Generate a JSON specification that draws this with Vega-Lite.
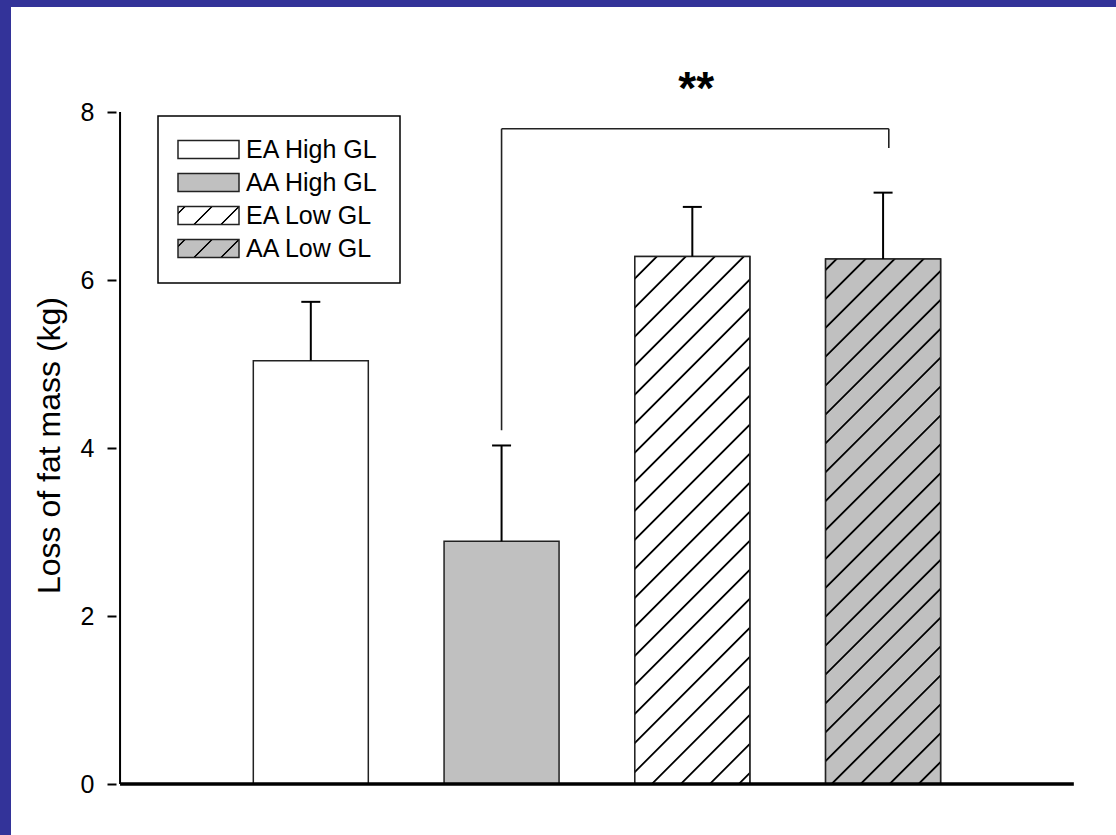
{
  "$schema": "https://vega.github.io/schema/vega-lite/v6.json",
  "width": 1105,
  "height": 828,
  "autosize": {"type": "none"},
  "padding": {"left": 11, "top": 7, "right": 0, "bottom": 0},
  "background": "#333399",
  "config": {
    "view": {"fill": "white", "stroke": null},
    "font": "Liberation Sans",
    "axis": {"labelFont": "Liberation Sans", "titleFont": "Liberation Sans"},
    "legend": {"labelFont": "Liberation Sans", "strokeWidth": 1.5}
  },
  "datasets": {
    "bars": [
      {"group": "EA High GL", "pos": 1, "mean": 5.04, "upper": 5.74},
      {"group": "AA High GL", "pos": 2, "mean": 2.89, "upper": 4.03},
      {"group": "EA Low GL", "pos": 3, "mean": 6.28, "upper": 6.87},
      {"group": "AA Low GL", "pos": 4, "mean": 6.25, "upper": 7.04}
    ],
    "bracket": [
      {"from": 2, "to": 4.03, "low": 7.8, "high": 7.8},
      {"from": 2, "to": 2, "low": 4.21, "high": 7.8},
      {"from": 4.03, "to": 4.03, "low": 7.57, "high": 7.8}
    ]
  },
  "layer": [
    {
      "data": {"name": "bars"},
      "mark": {"type": "bar", "size": 115, "stroke": "#222222", "strokeWidth": 1.5},
      "encoding": {
        "x": {"field": "pos", "type": "quantitative", "scale": {"domain": [-0.54545, 5.19481], "nice": false, "zero": false}, "axis": null},
        "y": {"field": "mean", "type": "quantitative", "scale": {"domain": [-0.6071, 9.25], "nice": false, "zero": false},
          "axis": {"values": [0, 2, 4, 6, 8], "format": "d", "offset": -105, "zindex": 1, "domain": false, "grid": false, "ticks": true, "tickSize": 9, "tickWidth": 2, "tickColor": "black",
            "labelFontSize": 25, "labelColor": "black", "labelPadding": 13, "title": "Loss of fat mass (kg)", "titleFontSize": 32, "titleFontWeight": "normal", "titleColor": "black", "titleX": -50, "titleY": 438, "titleAngle": -90, "titleAlign": "center", "titleBaseline": "bottom"}},
        "fill": {
          "field": "group",
          "type": "nominal",
          "scale": {"range": ["#c0c0c0", "#c0c0c0", "white", "white"]},
          "legend": null
        }
      }
    },
    {
      "data": {"name": "bars"},
      "transform": [{"filter": "datum.group === 'EA Low GL'"}],
      "mark": {"type": "bar", "size": 115, "stroke": "#222222", "strokeWidth": 1.5,
        "fill": {"gradient": "linear", "x1": 0, "y1": 0, "x2": 0.2538, "y2": 1.1628, "stops": [
              {"offset": 0, "color": "white"},
              {"offset": 0.0313, "color": "white"}, {"offset": 0.0333, "color": "black"}, {"offset": 0.0353, "color": "black"}, {"offset": 0.0373, "color": "white"},
              {"offset": 0.0764, "color": "white"}, {"offset": 0.0784, "color": "black"}, {"offset": 0.0804, "color": "black"}, {"offset": 0.0824, "color": "white"},
              {"offset": 0.1216, "color": "white"}, {"offset": 0.1236, "color": "black"}, {"offset": 0.1256, "color": "black"}, {"offset": 0.1276, "color": "white"},
              {"offset": 0.1668, "color": "white"}, {"offset": 0.1688, "color": "black"}, {"offset": 0.1708, "color": "black"}, {"offset": 0.1728, "color": "white"},
              {"offset": 0.2120, "color": "white"}, {"offset": 0.2140, "color": "black"}, {"offset": 0.2160, "color": "black"}, {"offset": 0.2180, "color": "white"},
              {"offset": 0.2571, "color": "white"}, {"offset": 0.2591, "color": "black"}, {"offset": 0.2611, "color": "black"}, {"offset": 0.2631, "color": "white"},
              {"offset": 0.3023, "color": "white"}, {"offset": 0.3043, "color": "black"}, {"offset": 0.3063, "color": "black"}, {"offset": 0.3083, "color": "white"},
              {"offset": 0.3475, "color": "white"}, {"offset": 0.3495, "color": "black"}, {"offset": 0.3515, "color": "black"}, {"offset": 0.3535, "color": "white"},
              {"offset": 0.3926, "color": "white"}, {"offset": 0.3946, "color": "black"}, {"offset": 0.3966, "color": "black"}, {"offset": 0.3986, "color": "white"},
              {"offset": 0.4378, "color": "white"}, {"offset": 0.4398, "color": "black"}, {"offset": 0.4418, "color": "black"}, {"offset": 0.4438, "color": "white"},
              {"offset": 0.4830, "color": "white"}, {"offset": 0.4850, "color": "black"}, {"offset": 0.4870, "color": "black"}, {"offset": 0.4890, "color": "white"},
              {"offset": 0.5282, "color": "white"}, {"offset": 0.5302, "color": "black"}, {"offset": 0.5322, "color": "black"}, {"offset": 0.5342, "color": "white"},
              {"offset": 0.5733, "color": "white"}, {"offset": 0.5753, "color": "black"}, {"offset": 0.5773, "color": "black"}, {"offset": 0.5793, "color": "white"},
              {"offset": 0.6185, "color": "white"}, {"offset": 0.6205, "color": "black"}, {"offset": 0.6225, "color": "black"}, {"offset": 0.6245, "color": "white"},
              {"offset": 0.6637, "color": "white"}, {"offset": 0.6657, "color": "black"}, {"offset": 0.6677, "color": "black"}, {"offset": 0.6697, "color": "white"},
              {"offset": 0.7088, "color": "white"}, {"offset": 0.7108, "color": "black"}, {"offset": 0.7128, "color": "black"}, {"offset": 0.7148, "color": "white"},
              {"offset": 0.7540, "color": "white"}, {"offset": 0.7560, "color": "black"}, {"offset": 0.7580, "color": "black"}, {"offset": 0.7600, "color": "white"},
              {"offset": 0.7992, "color": "white"}, {"offset": 0.8012, "color": "black"}, {"offset": 0.8032, "color": "black"}, {"offset": 0.8052, "color": "white"},
              {"offset": 0.8444, "color": "white"}, {"offset": 0.8464, "color": "black"}, {"offset": 0.8484, "color": "black"}, {"offset": 0.8504, "color": "white"},
              {"offset": 0.8895, "color": "white"}, {"offset": 0.8915, "color": "black"}, {"offset": 0.8935, "color": "black"}, {"offset": 0.8955, "color": "white"},
              {"offset": 0.9347, "color": "white"}, {"offset": 0.9367, "color": "black"}, {"offset": 0.9387, "color": "black"}, {"offset": 0.9407, "color": "white"},
              {"offset": 0.9799, "color": "white"}, {"offset": 0.9819, "color": "black"}, {"offset": 0.9839, "color": "black"}, {"offset": 0.9859, "color": "white"},
              {"offset": 1, "color": "white"}
            ]}},
      "encoding": {
        "x": {"field": "pos", "type": "quantitative", "scale": {"domain": [-0.54545, 5.19481], "nice": false, "zero": false}, "axis": null},
        "y": {"field": "mean", "type": "quantitative", "scale": {"domain": [-0.6071, 9.25], "nice": false, "zero": false}}
      }
    },
    {
      "data": {"name": "bars"},
      "transform": [{"filter": "datum.group === 'AA Low GL'"}],
      "mark": {"type": "bar", "size": 115, "stroke": "#222222", "strokeWidth": 1.5,
        "fill": {"gradient": "linear", "x1": 0, "y1": 0, "x2": 0.2538, "y2": 1.1628, "stops": [
              {"offset": 0, "color": "#c0c0c0"},
              {"offset": 0.0141, "color": "#c0c0c0"}, {"offset": 0.0161, "color": "black"}, {"offset": 0.0181, "color": "black"}, {"offset": 0.0201, "color": "#c0c0c0"},
              {"offset": 0.0593, "color": "#c0c0c0"}, {"offset": 0.0613, "color": "black"}, {"offset": 0.0633, "color": "black"}, {"offset": 0.0653, "color": "#c0c0c0"},
              {"offset": 0.1045, "color": "#c0c0c0"}, {"offset": 0.1065, "color": "black"}, {"offset": 0.1085, "color": "black"}, {"offset": 0.1105, "color": "#c0c0c0"},
              {"offset": 0.1496, "color": "#c0c0c0"}, {"offset": 0.1516, "color": "black"}, {"offset": 0.1536, "color": "black"}, {"offset": 0.1556, "color": "#c0c0c0"},
              {"offset": 0.1948, "color": "#c0c0c0"}, {"offset": 0.1968, "color": "black"}, {"offset": 0.1988, "color": "black"}, {"offset": 0.2008, "color": "#c0c0c0"},
              {"offset": 0.2400, "color": "#c0c0c0"}, {"offset": 0.2420, "color": "black"}, {"offset": 0.2440, "color": "black"}, {"offset": 0.2460, "color": "#c0c0c0"},
              {"offset": 0.2852, "color": "#c0c0c0"}, {"offset": 0.2872, "color": "black"}, {"offset": 0.2892, "color": "black"}, {"offset": 0.2912, "color": "#c0c0c0"},
              {"offset": 0.3303, "color": "#c0c0c0"}, {"offset": 0.3323, "color": "black"}, {"offset": 0.3343, "color": "black"}, {"offset": 0.3363, "color": "#c0c0c0"},
              {"offset": 0.3755, "color": "#c0c0c0"}, {"offset": 0.3775, "color": "black"}, {"offset": 0.3795, "color": "black"}, {"offset": 0.3815, "color": "#c0c0c0"},
              {"offset": 0.4207, "color": "#c0c0c0"}, {"offset": 0.4227, "color": "black"}, {"offset": 0.4247, "color": "black"}, {"offset": 0.4267, "color": "#c0c0c0"},
              {"offset": 0.4658, "color": "#c0c0c0"}, {"offset": 0.4678, "color": "black"}, {"offset": 0.4698, "color": "black"}, {"offset": 0.4718, "color": "#c0c0c0"},
              {"offset": 0.5110, "color": "#c0c0c0"}, {"offset": 0.5130, "color": "black"}, {"offset": 0.5150, "color": "black"}, {"offset": 0.5170, "color": "#c0c0c0"},
              {"offset": 0.5562, "color": "#c0c0c0"}, {"offset": 0.5582, "color": "black"}, {"offset": 0.5602, "color": "black"}, {"offset": 0.5622, "color": "#c0c0c0"},
              {"offset": 0.6014, "color": "#c0c0c0"}, {"offset": 0.6034, "color": "black"}, {"offset": 0.6054, "color": "black"}, {"offset": 0.6074, "color": "#c0c0c0"},
              {"offset": 0.6465, "color": "#c0c0c0"}, {"offset": 0.6485, "color": "black"}, {"offset": 0.6505, "color": "black"}, {"offset": 0.6525, "color": "#c0c0c0"},
              {"offset": 0.6917, "color": "#c0c0c0"}, {"offset": 0.6937, "color": "black"}, {"offset": 0.6957, "color": "black"}, {"offset": 0.6977, "color": "#c0c0c0"},
              {"offset": 0.7369, "color": "#c0c0c0"}, {"offset": 0.7389, "color": "black"}, {"offset": 0.7409, "color": "black"}, {"offset": 0.7429, "color": "#c0c0c0"},
              {"offset": 0.7820, "color": "#c0c0c0"}, {"offset": 0.7840, "color": "black"}, {"offset": 0.7860, "color": "black"}, {"offset": 0.7880, "color": "#c0c0c0"},
              {"offset": 0.8272, "color": "#c0c0c0"}, {"offset": 0.8292, "color": "black"}, {"offset": 0.8312, "color": "black"}, {"offset": 0.8332, "color": "#c0c0c0"},
              {"offset": 0.8724, "color": "#c0c0c0"}, {"offset": 0.8744, "color": "black"}, {"offset": 0.8764, "color": "black"}, {"offset": 0.8784, "color": "#c0c0c0"},
              {"offset": 0.9176, "color": "#c0c0c0"}, {"offset": 0.9196, "color": "black"}, {"offset": 0.9216, "color": "black"}, {"offset": 0.9236, "color": "#c0c0c0"},
              {"offset": 0.9627, "color": "#c0c0c0"}, {"offset": 0.9647, "color": "black"}, {"offset": 0.9667, "color": "black"}, {"offset": 0.9687, "color": "#c0c0c0"},
              {"offset": 1, "color": "#c0c0c0"}
            ]}},
      "encoding": {
        "x": {"field": "pos", "type": "quantitative", "scale": {"domain": [-0.54545, 5.19481], "nice": false, "zero": false}, "axis": null},
        "y": {"field": "mean", "type": "quantitative", "scale": {"domain": [-0.6071, 9.25], "nice": false, "zero": false}}
      }
    },
    {
      "data": {"name": "bars"},
      "mark": {"type": "point", "filled": true, "size": 0, "opacity": 1, "strokeWidth": 1.2,
        "stroke": {"expr": "'#222222'"},
        "fill": {"expr": "datum.value === 'EA Low GL' ? {gradient: 'linear', x1: 0, y1: 0, x2: 1.1914, y2: 0.3515, stops: [{offset: 0, color: 'white'}, {offset: 0.0686, color: 'white'}, {offset: 0.0826, color: 'black'}, {offset: 0.0946, color: 'black'}, {offset: 0.1086, color: 'white'}, {offset: 0.4104, color: 'white'}, {offset: 0.4244, color: 'black'}, {offset: 0.4364, color: 'black'}, {offset: 0.4504, color: 'white'}, {offset: 0.7522, color: 'white'}, {offset: 0.7662, color: 'black'}, {offset: 0.7782, color: 'black'}, {offset: 0.7922, color: 'white'}, {offset: 1, color: 'white'}]} : datum.value === 'AA Low GL' ? {gradient: 'linear', x1: 0, y1: 0, x2: 1.1914, y2: 0.3515, stops: [{offset: 0, color: '#c0c0c0'}, {offset: 0.0686, color: '#c0c0c0'}, {offset: 0.0826, color: 'black'}, {offset: 0.0946, color: 'black'}, {offset: 0.1086, color: '#c0c0c0'}, {offset: 0.4104, color: '#c0c0c0'}, {offset: 0.4244, color: 'black'}, {offset: 0.4364, color: 'black'}, {offset: 0.4504, color: '#c0c0c0'}, {offset: 0.7522, color: '#c0c0c0'}, {offset: 0.7662, color: 'black'}, {offset: 0.7782, color: 'black'}, {offset: 0.7922, color: '#c0c0c0'}, {offset: 1, color: '#c0c0c0'}]} : datum.value === 'AA High GL' ? '#c0c0c0' : 'white'"}},
      "encoding": {
        "x": {"field": "pos", "type": "quantitative", "scale": {"domain": [-0.54545, 5.19481], "nice": false, "zero": false}, "axis": null},
        "y": {"field": "mean", "type": "quantitative", "scale": {"domain": [-0.6071, 9.25], "nice": false, "zero": false}},
        "opacity": {
          "field": "group",
          "type": "nominal",
          "scale": {"type": "ordinal", "domain": ["EA High GL", "AA High GL", "EA Low GL", "AA Low GL"], "range": [1, 1, 1, 1]},
          "legend": {
            "title": null,
            "orient": "none",
            "legendX": 147,
            "legendY": 109,
            "strokeColor": "black",
            "fillColor": "white",
            "padding": 21,
            "symbolType": "M-3.389,-1L3.389,-1L3.389,1L-3.389,1Z",
            "symbolSize": 324,
            "symbolOffset": 17,
            "symbolOpacity": 1,
            "labelFontSize": 25,
            "labelColor": "black",
            "labelOffset": 25,
            "rowPadding": 7
          }
        }
      }
    },
    {
      "data": {"name": "bars"},
      "mark": {"type": "rule", "color": "black", "strokeWidth": 2},
      "encoding": {
        "x": {"field": "pos", "type": "quantitative", "scale": {"domain": [-0.54545, 5.19481], "nice": false, "zero": false}, "axis": null},
        "y": {"field": "mean", "type": "quantitative", "scale": {"domain": [-0.6071, 9.25], "nice": false, "zero": false}},
        "y2": {"field": "upper"}
      }
    },
    {
      "data": {"name": "bars"},
      "mark": {"type": "tick", "orient": "horizontal", "size": 19, "thickness": 2, "color": "black", "opacity": 1},
      "encoding": {
        "x": {"field": "pos", "type": "quantitative", "scale": {"domain": [-0.54545, 5.19481], "nice": false, "zero": false}, "axis": null},
        "y": {"field": "upper", "type": "quantitative", "scale": {"domain": [-0.6071, 9.25], "nice": false, "zero": false}}
      }
    },
    {
      "data": {"name": "bracket"},
      "mark": {"type": "rule", "color": "#222222", "strokeWidth": 1.6},
      "encoding": {
        "x": {"field": "from", "type": "quantitative", "scale": {"domain": [-0.54545, 5.19481], "nice": false, "zero": false}, "axis": null},
        "x2": {"field": "to"},
        "y": {"field": "low", "type": "quantitative", "scale": {"domain": [-0.6071, 9.25], "nice": false, "zero": false}},
        "y2": {"field": "high"}
      }
    },
    {
      "data": {"values": [{"label": "**", "at": 3.02, "level": 8.09}]},
      "mark": {"type": "text", "font": "Liberation Sans", "fontSize": 46, "fontWeight": "bold", "color": "black", "align": "center", "baseline": "alphabetic"},
      "encoding": {
        "x": {"field": "at", "type": "quantitative", "scale": {"domain": [-0.54545, 5.19481], "nice": false, "zero": false}, "axis": null},
        "y": {"field": "level", "type": "quantitative", "scale": {"domain": [-0.6071, 9.25], "nice": false, "zero": false}},
        "text": {"field": "label"}
      }
    },
    {
      "data": {"values": [{"start": 0, "end": 5, "base": 0}]},
      "mark": {"type": "rule", "color": "black", "strokeWidth": 3.5},
      "encoding": {
        "x": {"field": "start", "type": "quantitative", "scale": {"domain": [-0.54545, 5.19481], "nice": false, "zero": false}, "axis": null},
        "x2": {"field": "end"},
        "y": {"field": "base", "type": "quantitative", "scale": {"domain": [-0.6071, 9.25], "nice": false, "zero": false}}
      }
    },
    {
      "data": {"values": [{"at": 0, "bottom": 0, "top": 8}]},
      "mark": {"type": "rule", "color": "black", "strokeWidth": 2},
      "encoding": {
        "x": {"field": "at", "type": "quantitative", "scale": {"domain": [-0.54545, 5.19481], "nice": false, "zero": false}, "axis": null},
        "y": {"field": "bottom", "type": "quantitative", "scale": {"domain": [-0.6071, 9.25], "nice": false, "zero": false}},
        "y2": {"field": "top"}
      }
    }
  ]
}
